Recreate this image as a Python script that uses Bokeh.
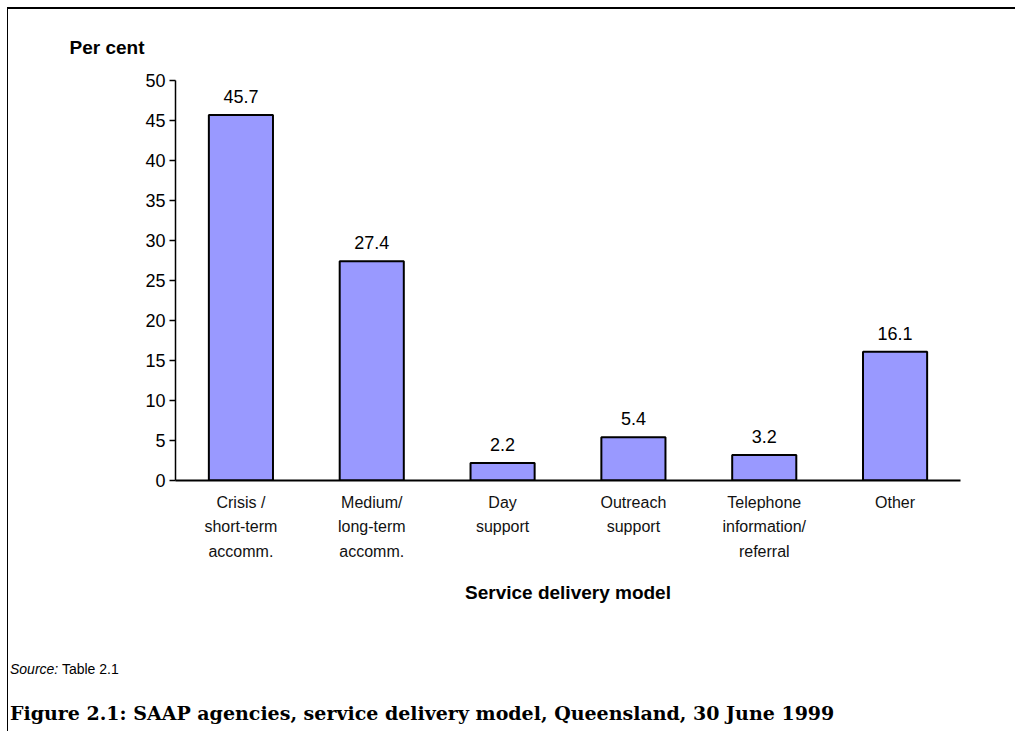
from bokeh.plotting import figure
from bokeh.models import ColumnDataSource, FactorRange, SingleIntervalTicker, Div
from bokeh.layouts import column
from bokeh.embed import file_html
from bokeh.resources import INLINE

categories = ["Crisis /\nshort-term\naccomm.", "Medium/\nlong-term\naccomm.", "Day\nsupport",
              "Outreach\nsupport", "Telephone\ninformation/\nreferral", "Other"]
values = [45.7, 27.4, 2.2, 5.4, 3.2, 16.1]
value_labels = ["45.7", "27.4", "2.2", "5.4", "3.2", "16.1"]

src = ColumnDataSource(dict(cat=categories, val=values, lab=value_labels))

p = figure(x_range=FactorRange(*categories, range_padding=0), y_range=(0, 50),
           width=1004, height=621, output_backend="svg", toolbar_location=None,
           min_border_left=167, min_border_right=52, min_border_top=71, min_border_bottom=150)
p.outline_line_color = None
p.xgrid.grid_line_color = None
p.ygrid.grid_line_color = None

p.title.text = "Per cent"
p.title.align = "left"
p.title.offset = -106
p.title.standoff = 46
p.title.vertical_align = "bottom"
p.title.text_font = "Liberation Sans"
p.title.text_font_style = "bold"
p.title.text_font_size = "19px"
p.title.text_color = "black"

p.vbar(x="cat", top="val", width=0.49, source=src, fill_color="#9999FF",
       line_color="black", line_width=2)
p.text(x="cat", y="val", text="lab", source=src, text_align="center", text_baseline="bottom",
       y_offset=-12, text_font_size="18px", text_color="black", text_font={"value": "Liberation Sans"})

p.yaxis.ticker = SingleIntervalTicker(interval=5)
p.yaxis.major_label_text_font_size = "18px"
p.yaxis.major_label_text_font = "Liberation Sans"
p.yaxis.major_label_text_color = "black"
p.yaxis.major_tick_out = 6
p.yaxis.major_tick_in = 0
p.yaxis.minor_tick_out = 0
p.yaxis.minor_tick_in = 0
p.yaxis.axis_line_width = 1.5
p.yaxis.major_tick_line_width = 1.5
p.yaxis.major_label_standoff = 4

p.xaxis.major_tick_line_color = None
p.xaxis.axis_line_width = 2
p.xaxis.major_label_text_font_size = "16px"
p.xaxis.major_label_text_font = "Liberation Sans"
p.xaxis.major_label_text_color = "#111111"
p.xaxis.major_label_text_line_height = 1.45
p.xaxis.major_label_standoff = 7
p.xaxis.axis_label = "Service delivery model"
p.xaxis.axis_label_text_font = "Liberation Sans"
p.xaxis.axis_label_text_font_style = "bold"
p.xaxis.axis_label_text_font_size = "19px"
p.xaxis.axis_label_text_color = "black"
p.xaxis.axis_label_standoff = 19

notes = Div(width=1004, height=96, text=(
    "<div style=\"font-family:'Liberation Sans';font-size:14px;color:black;"
    "margin:25px 0 0 -3px;line-height:18px\"><i>Source:</i> Table 2.1</div>"
    "<div style=\"font-family:'DejaVu Serif';font-weight:bold;font-size:19px;color:black;"
    "margin:24px 0 0 -3px;line-height:22px;white-space:nowrap\">"
    "Figure 2.1: SAAP agencies, service delivery model, Queensland, 30 June 1999</div>"))

layout = column(p, notes, spacing=0)
layout.styles = {"border-left": "1px solid black", "border-top": "2px solid black",
                 "margin-left": "7px", "margin-top": "7px"}

open("out.html", "w").write(file_html(layout, INLINE))
